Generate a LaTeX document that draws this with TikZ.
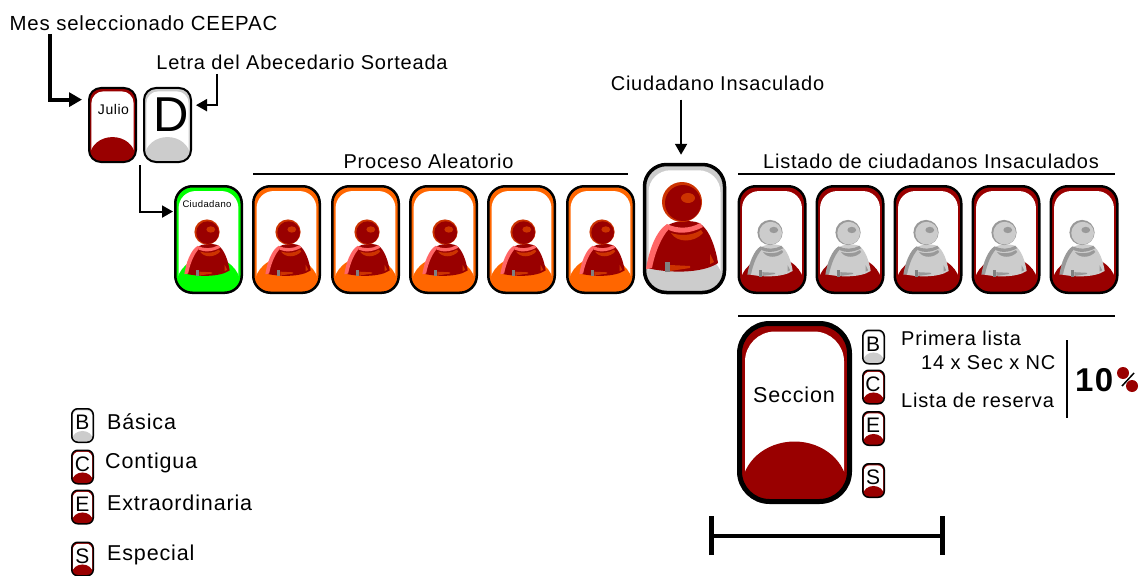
\documentclass[tikz,border=0pt]{standalone}
\usepackage{fontspec}
\setmainfont[LetterSpace=4]{Liberation Sans}
\usetikzlibrary{arrows.meta}

\definecolor{rojo}{HTML}{990000}
\definecolor{naranja}{HTML}{FF6600}
\definecolor{verde}{HTML}{00FF00}
\definecolor{gris}{HTML}{CCCCCC}
\definecolor{rosa}{HTML}{FF6666}
\definecolor{tostado}{HTML}{CC3300}

\tikzset{
  every node/.style={font=\fontsize{20}{22}\selectfont, inner sep=0pt},
  tarjeta/.style n args={5}{draw=black, rounded corners=#3pt, minimum width=#4pt, minimum height=#5pt,
    path picture={
    \begin{scope}[sharp corners, shift={(path picture bounding box.center)}, x=#4pt, y=#5pt]
      \fill[#1] (-.5,-.5) rectangle (.5,.5);
      \fill[white, rounded corners=#3pt] (-.45,-.5) rectangle (.45,.455);
      \fill[#2] (0,-.423) ellipse [x radius=.48, y radius=.26];
      \fill[#2] (-.5,-.5) rectangle (.5,-.423);
    \end{scope}}},
  letra/.style={tarjeta={#1}{#1}{12}{47}{74}, line width=2pt},
  carta/.style={tarjeta={#1}{#1}{17}{66.5}{106.5}, line width=2.5pt},
  mini/.style={tarjeta={#1}{#1}{6}{21.5}{33.5}, line width=1.5pt},
  leyenda/.style={anchor=west, font=\fontsize{21.5}{23}\selectfont},
  flechagruesa/.style={line width=4pt, -{Triangle[length=13pt,width=14pt]}},
  flecha/.style={line width=2pt, -{Triangle[length=11pt,width=12pt]}},
  raya/.style={line width=2pt},
  pics/persona/.style n args={4}{code={
    % cuerpo
    \fill[#1] (-15,24) .. controls (-8,18) and (10,18) .. (17,21)
      .. controls (28,27) and (34,48) .. (36,61)
      .. controls (20,72) and (-15,71) .. (-35,66)
      .. controls (-31,48) and (-24,28) .. (-15,24) -- cycle;
    \fill[#2] (-15,22) .. controls (-26,29) and (-33,48) .. (-36,67) -- (-30,66)
      .. controls (-27,50) and (-20,34) .. (-13,27) -- cycle;
    \fill[#2] (-15,22) .. controls (-5,27) and (8,27) .. (18,21) -- (21,25)
      .. controls (8,32) and (-5,32) .. (-13,28) -- cycle;
    \fill[#3] (-11,31) .. controls (-2,34) and (10,34) .. (19,28) -- (21,31)
      .. controls (12,41) and (-5,41) .. (-11,31) -- cycle;
    \fill[#3] (-12,63) -- (8,64) -- (8,66) -- (-12,69) -- cycle;
    \fill[#3] (28,52) -- (32,60) -- (28,62) -- cycle;
    \fill[#4] (-17,60) rectangle (-12,70);
    % cabeza
    \fill[#3] (0,0) circle (20);
    \fill[#1] (1,1) circle (18);
    \fill[#3] (6,-4) ellipse [x radius=7, y radius=5];
  }},
}

\begin{document}
\begin{tikzpicture}[x=1pt, y=-1pt]
  \useasboundingbox (0,0) rectangle (1139,575);

  % Mes y letra
  \node[letra=rojo] (julio) at (112.5,125) {};
  \node[font=\fontsize{14}{16}\selectfont] (mesnombre) at (113.5,109) {Julio};
  \node[letra=gris] (sorteo) at (167.5,125) {};
  \node[font=\fontsize{49}{51}\selectfont] (letrad) at (171.5,115) {D};
  \node[font=\fontsize{20.4}{22}\selectfont] (mes) at (143.5,23) {Mes seleccionado CEEPAC};
  \node (abecedario) at (302,62) {Letra del Abecedario Sorteada};
  \coordinate (mesbase) at (50,34);
  \coordinate (letrabase) at (217,74);
  \coordinate (salida) at (140,165);

  % Fila de tarjetas
  \node[carta=verde] (ciudadano) at (208.5,239.5) {};
  \node[font=\fontsize{9.5}{11}\selectfont] (ciudadanotxt) at (207,204) {Ciudadano};
  \pic[scale=.63] at (207,232) {persona={rojo}{rosa}{tostado}{gray}};
  \foreach \i/\x in {1/252,2/331,3/409,4/487,5/566} {
    \node[carta=naranja] (aleatorio\i) at (\x+34.5,239.5) {};
    \pic[scale=.63] at (\x+36,232) {persona={rojo}{rosa}{tostado}{gray}};
  }
  \node[tarjeta={gris}{gris}{22}{80}{128}, line width=3.5pt] (insaculado) at (684.5,228.5) {};
  \pic at (682,202) {persona={rojo}{rosa}{tostado}{gray}};
  \foreach \i/\x in {1/738,2/816,3/894,4/972,5/1050} {
    \node[carta=rojo] (listado\i) at (\x+34,239.5) {};
    \pic[scale=.63] at (\x+32,232.5) {persona={gris}{gray!80}{gray!80}{gray}};
  }

  % Titulos
  \node (proceso) at (428.5,161) {Proceso Aleatorio};
  \node (listadotxt) at (931,161) {Listado de ciudadanos Insaculados};
  \node (elegido) at (717.5,83) {Ciudadano Insaculado};
  \draw[raya] (253,173.5) -- (628,173.5);
  \draw[raya] (738,173.5) -- (1115,173.5);
  \draw[raya] (738,316) -- (1115,316);

  % Flechas
  \draw[flechagruesa, shorten >=6pt] (mesbase) |- (julio.134);
  \draw[flecha, shorten >=4pt] (letrabase) |- (sorteo.39);
  \draw[flecha, shorten >=1pt] (salida) |- (ciudadano.141);
  \draw[flecha, shorten <=9pt, shorten >=8pt] (elegido.south -| insaculado.93) -- (insaculado.93);

  % Seccion
  \node[tarjeta={rojo}{rojo}{30}{110}{178}, line width=5pt] (seccion) at (794.5,412.5) {};
  \node[font=\fontsize{21.5}{23}\selectfont] (secciontxt) at (794,395) {Seccion};
  \foreach \n/\t/\c/\y in {b/B/gris/347,c/C/rojo/387,e/E/rojo/428.5,s/S/rojo/480.5} {
    \node[mini=\c] (sec\n) at (873.5,\y) {};
    \node[font=\fontsize{21}{23}\selectfont] (sec\n txt) at (873,\y-3) {\t};
  }
  \node[anchor=west] (primera) at (901,338) {Primera lista};
  \node[anchor=west] (catorce) at (921,363) {14 x Sec x NC};
  \node[anchor=west] (reserva) at (901,400) {Lista de reserva};
  \draw[raya] (1067,340) -- (1067,418);
  \node[font=\bfseries\fontsize{33}{35}\selectfont, anchor=west] (diez) at (1075,380) {10};
  \fill[rojo] (1123,373) circle (6);
  \fill[rojo] (1132,386) circle (6);
  \draw[line width=1.5pt] (1122,386) -- (1134,373);
  \draw[line width=4pt, {Bar[width=39pt,line width=5pt]}-{Bar[width=39pt,line width=5pt]}] (709,535.5) -- (945,535.5);

  % Leyenda
  \foreach \n/\t/\c/\y/\tx/\ty/\nom in {b/B/gris/425.5/107/422/B\'asica,c/C/rojo/467/105/463/Contigua,e/E/rojo/507/107/503/Extraordinaria,s/S/rojo/559/107/555/Especial} {
    \node[mini=\c] (ley\n) at (82.5,\y) {};
    \node[font=\fontsize{21}{23}\selectfont] (ley\n txt) at (82.5,\y-3) {\t};
    \node[leyenda] (ley\n nom) at (\tx,\ty) {\nom};
  }
\end{tikzpicture}
\end{document}
